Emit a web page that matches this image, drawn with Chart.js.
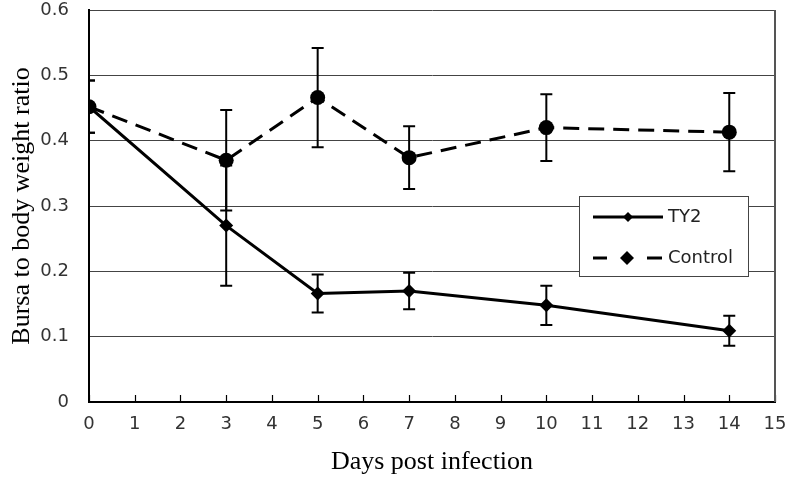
<!DOCTYPE html>
<html lang="en">
<head>
    <meta charset="UTF-8">
    <title>Bursa to body weight ratio</title>
    <script src="https://cdn.jsdelivr.net/npm/chart.js"></script>
    <style>
        body { margin: 0; background: #fff; }
    </style>
</head>
<body>
    <canvas id="bursa" width="787" height="494"></canvas>
<script>
    // values
    const days = [0, 3, 5, 7, 10, 14];
    const ty2 = [0.452, 0.270, 0.166, 0.170, 0.148, 0.109];
    const ty2Err = [0.040, 0.092, 0.029, 0.028, 0.030, 0.023];
    const control = [0.452, 0.370, 0.466, 0.374, 0.420, 0.413];
    const controlErr = [0.040, 0.077, 0.076, 0.048, 0.051, 0.060];
    const xTicks = [0, 1, 2, 3, 4, 5, 6, 7, 8, 9, 10, 11, 12, 13, 14, 15];
    const yTicks = [0, 0.1, 0.2, 0.3, 0.4, 0.5, 0.6];

    const tickFont = { family: "DejaVu Sans", size: 18 };

    function points(ys) {
        return days.map((d, i) => ({ x: d, y: ys[i] }));
    }

    // error bars, drawn through the chart's own scales
    const errorBars = {
        id: "errorBars",
        afterDatasetsDraw(chart) {
            const { ctx, chartArea, scales: { x, y } } = chart;
            const sets = [[ty2, ty2Err], [control, controlErr]];
            ctx.save();
            ctx.beginPath();
            ctx.rect(chartArea.left, chartArea.top - 20, chartArea.width, chartArea.height + 20);
            ctx.clip();
            ctx.strokeStyle = "#000";
            ctx.lineWidth = 2;
            sets.forEach(([vals, errs]) => {
                vals.forEach((v, i) => {
                    const px = x.getPixelForValue(days[i]);
                    const top = y.getPixelForValue(v + errs[i]);
                    const bot = y.getPixelForValue(v - errs[i]);
                    ctx.beginPath();
                    ctx.moveTo(px, top); ctx.lineTo(px, bot);
                    ctx.moveTo(px - 6, top); ctx.lineTo(px + 6, top);
                    ctx.moveTo(px - 6, bot); ctx.lineTo(px + 6, bot);
                    ctx.stroke();
                });
            });
            ctx.restore();
        }
    };

    // inward tick marks on the x axis, the right border and the boxed legend
    const frame = {
        id: "frame",
        afterDraw(chart) {
            const { ctx, chartArea, scales: { x } } = chart;
            ctx.save();
            ctx.strokeStyle = "#000";
            ctx.lineWidth = 1.2;
            x.ticks.forEach(t => {
                const px = Math.round(x.getPixelForValue(t.value)) + 0.5;
                ctx.beginPath();
                ctx.moveTo(px, chartArea.bottom);
                ctx.lineTo(px, chartArea.bottom - 7);
                ctx.stroke();
            });
            ctx.strokeStyle = "#555";
            ctx.lineWidth = 2;
            ctx.beginPath();
            ctx.moveTo(chartArea.right, chartArea.top);
            ctx.lineTo(chartArea.right, chartArea.bottom);
            ctx.stroke();

            // legend
            ctx.fillStyle = "#fff";
            ctx.fillRect(579, 196, 169, 80);
            ctx.strokeStyle = "#444";
            ctx.lineWidth = 1;
            ctx.strokeRect(579.5, 196.5, 169, 80);
            ctx.strokeStyle = "#000";
            ctx.fillStyle = "#000";
            ctx.lineWidth = 3;
            ctx.beginPath();
            ctx.moveTo(593, 217); ctx.lineTo(663, 217);
            ctx.stroke();
            ctx.beginPath();
            ctx.moveTo(628, 212); ctx.lineTo(633, 217); ctx.lineTo(628, 222); ctx.lineTo(623, 217);
            ctx.closePath(); ctx.fill();
            ctx.beginPath();
            ctx.moveTo(593, 258); ctx.lineTo(607, 258);
            ctx.moveTo(647, 258); ctx.lineTo(662, 258);
            ctx.stroke();
            ctx.beginPath();
            ctx.moveTo(627, 251); ctx.lineTo(634, 258); ctx.lineTo(627, 265); ctx.lineTo(620, 258);
            ctx.closePath(); ctx.fill();
            ctx.font = "18px 'DejaVu Sans'";
            ctx.fillStyle = "#222";
            ctx.textBaseline = "middle";
            ctx.fillText("TY2", 668, 217);
            ctx.fillText("Control", 668, 258);
            ctx.restore();
        }
    };

    new Chart(document.getElementById("bursa"), {
        type: "scatter",
        data: {
            datasets: [
                {
                    label: "Control",
                    data: points(control),
                    showLine: true,
                    borderColor: "#000",
                    backgroundColor: "#000",
                    borderWidth: 3,
                    borderDash: [16, 9],
                    pointStyle: "circle",
                    pointRadius: 7.5,
                    pointBorderWidth: 0
                },
                {
                    label: "TY2",
                    data: points(ty2),
                    showLine: true,
                    borderColor: "#000",
                    backgroundColor: "#000",
                    borderWidth: 3,
                    pointStyle: "rectRot",
                    pointRadius: 7,
                    pointBorderWidth: 0
                }
            ]
        },
        options: {
            responsive: false,
            animation: false,
            layout: { padding: { top: 10, right: 12, left: 0, bottom: 0 } },
            plugins: {
                legend: { display: false },
                tooltip: { enabled: false }
            },
            scales: {
                x: {
                    type: "linear",
                    min: 0,
                    max: 15,
                    afterFit: s => { s.height = 92; s.paddingLeft = 0; s.paddingRight = 0; },
                    afterBuildTicks: s => { s.ticks = xTicks.map(v => ({ value: v })); },
                    grid: { display: false, drawTicks: false },
                    border: { display: true, color: "#000", width: 2 },
                    ticks: { font: tickFont, color: "#333", padding: 12, maxRotation: 0 },
                    title: {
                        display: true,
                        text: "Days post infection",
                        font: { family: "Liberation Serif", size: 26 },
                        color: "#000",
                        padding: { bottom: 16 }
                    }
                },
                y: {
                    min: 0,
                    max: 0.6,
                    afterFit: s => { s.width = 89; s.paddingTop = 0; s.paddingBottom = 0; },
                    afterBuildTicks: s => { s.ticks = yTicks.map(v => ({ value: v })); },
                    grid: { color: "#444", lineWidth: 1, drawTicks: false },
                    border: { display: true, color: "#000", width: 2 },
                    ticks: {
                        font: tickFont,
                        color: "#333",
                        padding: 20,
                        callback: v => v === 0 ? "0" : v.toFixed(1)
                    },
                    title: {
                        display: true,
                        text: "Bursa to body weight ratio",
                        font: { family: "Liberation Serif", size: 26 },
                        color: "#000",
                        padding: { top: 7 }
                    }
                }
            }
        },
        plugins: [errorBars, frame]
    });
</script>
</body>
</html>
